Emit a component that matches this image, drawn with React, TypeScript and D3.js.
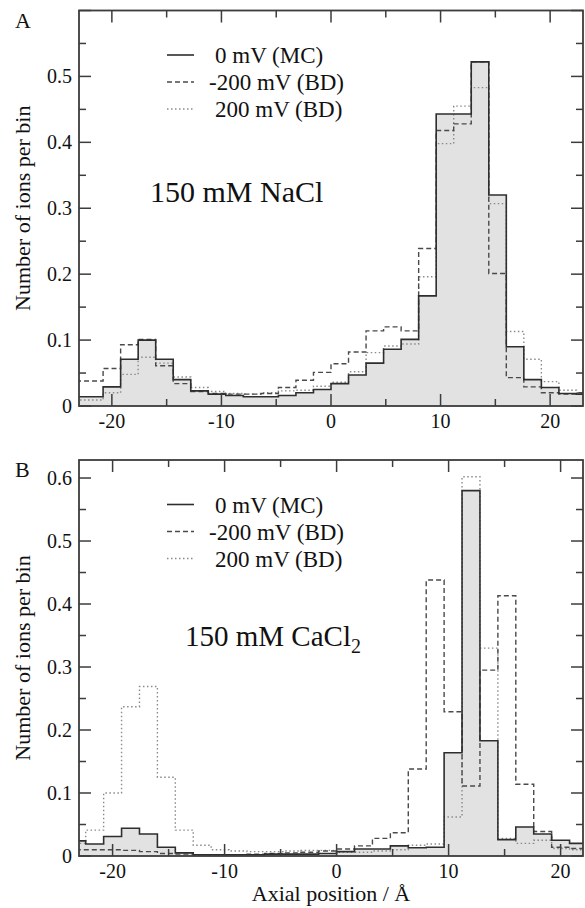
import React from "react";
import * as d3 from "d3";

// Bin edges along the channel axis (Å)
const BIN_EDGES = [
  -24, -22.4, -20.8, -19.2, -17.6, -16, -14.4, -12.8, -11.2, -9.6, -8, -6.4, -4.8, -3.2, -1.6,
  0, 1.6, 3.2, 4.8, 6.4, 8, 9.6, 11.2, 12.8, 14.4, 16, 17.6, 19.2, 20.8, 22.4, 24,
];

// Panel A: 150 mM NaCl
const NACL_0MV_MC = [
  0.014, 0.014, 0.029, 0.071, 0.1, 0.071, 0.04, 0.023, 0.018, 0.016, 0.014, 0.014, 0.016, 0.02, 0.025,
  0.034, 0.047, 0.065, 0.086, 0.101, 0.167, 0.443, 0.443, 0.522, 0.32, 0.09, 0.04, 0.028, 0.019, 0.018,
];
const NACL_NEG200_BD = [
  0.038, 0.038, 0.057, 0.093, 0.101, 0.061, 0.034, 0.022, 0.019, 0.018, 0.018, 0.019, 0.028, 0.039, 0.051,
  0.064, 0.082, 0.114, 0.12, 0.114, 0.239, 0.418, 0.428, 0.522, 0.201, 0.043, 0.029, 0.02, 0.018, 0.02,
];
const NACL_POS200_BD = [
  0.009, 0.009, 0.02, 0.048, 0.074, 0.065, 0.044, 0.028, 0.022, 0.019, 0.018, 0.02, 0.023, 0.024, 0.03,
  0.036, 0.052, 0.081, 0.091, 0.094, 0.196, 0.398, 0.455, 0.483, 0.307, 0.113, 0.071, 0.037, 0.024, 0.02,
];

// Panel B: 150 mM CaCl2
const CACL_0MV_MC = [
  0.024, 0.019, 0.031, 0.044, 0.035, 0.014, 0.005, 0.002, 0.002, 0.002, 0.002, 0.003, 0.003, 0.003, 0.004,
  0.007, 0.011, 0.011, 0.016, 0.013, 0.014, 0.164, 0.58, 0.183, 0.026, 0.046, 0.035, 0.025, 0.02, 0.02,
];
const CACL_NEG200_BD = [
  0.01, 0.01, 0.01, 0.009, 0.007, 0.004, 0.003, 0.002, 0.002, 0.002, 0.003, 0.004, 0.005, 0.006, 0.008,
  0.011, 0.016, 0.028, 0.037, 0.138, 0.438, 0.229, 0.111, 0.295, 0.413, 0.114, 0.039, 0.014, 0.012, 0.01,
];
const CACL_POS200_BD = [
  0.02, 0.041, 0.1, 0.237, 0.269, 0.125, 0.041, 0.017, 0.01, 0.008, 0.007, 0.007, 0.008, 0.009, 0.009,
  0.006, 0.006, 0.008, 0.01, 0.017, 0.019, 0.062, 0.602, 0.33, 0.028, 0.02, 0.025, 0.012, 0.01, 0.01,
];

const LEGEND_LABELS = ["0 mV (MC)", "-200 mV (BD)", "200 mV (BD)"];
const X_MAJOR = [-20, -10, 0, 10, 20];
const X_MAJOR_LABELS = ["-20", "-10", "0", "10", "20"];
const X_MINOR = [-15, -5, 5, 15];
const Y_MAJOR = [0, 0.1, 0.2, 0.3, 0.4, 0.5, 0.6];
const Y_MAJOR_LABELS = ["0", "0.1", "0.2", "0.3", "0.4", "0.5", "0.6"];
const Y_MINOR = [0.05, 0.15, 0.25, 0.35, 0.45, 0.55];

const FONT = "'Liberation Serif', 'Times New Roman', serif";
const FRAME = "#3c3c3c";
const FILL = "#e2e2e2";

const PLOT_LEFT = 79;
const PLOT_RIGHT = 583;

const PANELS = [
  {
    id: "A",
    top: 10.5,
    bottom: 406,
    xDomain: [-23, 23],
    yMax: 0.6,
    mc: NACL_0MV_MC,
    neg: NACL_NEG200_BD,
    pos: NACL_POS200_BD,
    salt: "150 mM NaCl",
    sub: "",
    saltX: 150,
    saltY: 202,
    saltSize: 30,
  },
  {
    id: "B",
    top: 460,
    bottom: 856,
    xDomain: [-23, 22],
    yMax: 0.6286,
    mc: CACL_0MV_MC,
    neg: CACL_NEG200_BD,
    pos: CACL_POS200_BD,
    salt: "150 mM CaCl",
    sub: "2",
    saltX: 185,
    saltY: 646,
    saltSize: 29,
  },
];

type Cfg = (typeof PANELS)[number];

function stepPoints(values: number[]): [number, number][] {
  const pts: [number, number][] = values.map((v, i) => [BIN_EDGES[i], v]);
  pts.push([BIN_EDGES[values.length], values[values.length - 1]]);
  return pts;
}

function Panel({ cfg }: { cfg: Cfg }) {
  const x = d3.scaleLinear().domain(cfg.xDomain).range([PLOT_LEFT, PLOT_RIGHT]);
  const y = d3.scaleLinear().domain([0, cfg.yMax]).range([cfg.bottom, cfg.top]);
  const line = d3
    .line<[number, number]>()
    .x((d) => x(d[0]))
    .y((d) => y(d[1]))
    .curve(d3.curveStepAfter);
  const area = d3
    .area<[number, number]>()
    .x((d) => x(d[0]))
    .y0(y(0))
    .y1((d) => y(d[1]))
    .curve(d3.curveStepAfter);
  const clipId = `clip-${cfg.id}`;
  const w = PLOT_RIGHT - PLOT_LEFT;
  const h = cfg.bottom - cfg.top;
  const major = 12;
  const minor = 7;
  const yMajor = Y_MAJOR.filter((v) => v <= cfg.yMax + 1e-9);
  const yLabelled = Y_MAJOR.filter((v) => v < cfg.yMax - 1e-6);
  const yMinor = Y_MINOR.filter((v) => v <= cfg.yMax);
  const legendY = [cfg.top + 44.5, cfg.top + 71.5, cfg.top + 98.5];
  const legendTextX = [215, 209, 215];
  const styles = [
    { stroke: "#2e2e2e", dash: undefined, width: 1.6 },
    { stroke: "#4a4a4a", dash: "5,3", width: 1.4 },
    { stroke: "#8a8a8a", dash: "1.5,2.5", width: 1.4 },
  ];
  const series = [cfg.mc, cfg.neg, cfg.pos];

  return (
    <g>
      <defs>
        <clipPath id={clipId}>
          <rect x={PLOT_LEFT} y={cfg.top} width={w} height={h} />
        </clipPath>
      </defs>
      <g clipPath={`url(#${clipId})`}>
        <path d={area(stepPoints(cfg.mc)) || ""} fill={FILL} stroke="none" />
        {[2, 1, 0].map((i) => (
          <path
            key={i}
            d={line(stepPoints(series[i])) || ""}
            fill="none"
            stroke={styles[i].stroke}
            strokeWidth={styles[i].width}
            strokeDasharray={styles[i].dash}
          />
        ))}
      </g>
      {/* frame */}
      <rect x={PLOT_LEFT} y={cfg.top} width={w} height={h} fill="none" stroke={FRAME} strokeWidth={1.8} />
      {/* x ticks */}
      {X_MAJOR.filter((v) => v > cfg.xDomain[0] && v < cfg.xDomain[1]).map((v) => (
        <g key={`xM${v}`}>
          <line x1={x(v)} x2={x(v)} y1={cfg.bottom} y2={cfg.bottom - major} stroke={FRAME} strokeWidth={1.5} />
          <line x1={x(v)} x2={x(v)} y1={cfg.top} y2={cfg.top + major} stroke={FRAME} strokeWidth={1.5} />
          <text x={x(v)} y={cfg.bottom + 22} textAnchor="middle" fontSize={20} fontFamily={FONT} fill="#111">
            {X_MAJOR_LABELS[X_MAJOR.indexOf(v)]}
          </text>
        </g>
      ))}
      {X_MINOR.filter((v) => v > cfg.xDomain[0] && v < cfg.xDomain[1]).map((v) => (
        <g key={`xm${v}`}>
          <line x1={x(v)} x2={x(v)} y1={cfg.bottom} y2={cfg.bottom - minor} stroke={FRAME} strokeWidth={1.5} />
          <line x1={x(v)} x2={x(v)} y1={cfg.top} y2={cfg.top + minor} stroke={FRAME} strokeWidth={1.5} />
        </g>
      ))}
      {/* y ticks */}
      {yMajor.map((v) => (
        <g key={`yM${v}`}>
          <line x1={PLOT_LEFT} x2={PLOT_LEFT + major} y1={y(v)} y2={y(v)} stroke={FRAME} strokeWidth={1.5} />
          <line x1={PLOT_RIGHT} x2={PLOT_RIGHT - major} y1={y(v)} y2={y(v)} stroke={FRAME} strokeWidth={1.5} />
        </g>
      ))}
      {yLabelled.map((v) => (
        <text key={`yl${v}`} x={72} y={y(v) + 7} textAnchor="end" fontSize={20} fontFamily={FONT} fill="#111">
          {Y_MAJOR_LABELS[Y_MAJOR.indexOf(v)]}
        </text>
      ))}
      {yMinor.map((v) => (
        <g key={`ym${v}`}>
          <line x1={PLOT_LEFT} x2={PLOT_LEFT + minor} y1={y(v)} y2={y(v)} stroke={FRAME} strokeWidth={1.5} />
          <line x1={PLOT_RIGHT} x2={PLOT_RIGHT - minor} y1={y(v)} y2={y(v)} stroke={FRAME} strokeWidth={1.5} />
        </g>
      ))}
      {/* y title */}
      <text
        transform={`translate(30,${(cfg.top + cfg.bottom) / 2}) rotate(-90)`}
        textAnchor="middle"
        fontSize={22}
        fontFamily={FONT}
        fill="#111"
      >
        Number of ions per bin
      </text>
      {/* panel letter */}
      <text x={15} y={cfg.top + 17} fontSize={22} fontFamily={FONT} fill="#111">
        {cfg.id}
      </text>
      {/* legend */}
      {LEGEND_LABELS.map((lab, i) => (
        <g key={lab}>
          <line
            x1={167}
            x2={194}
            y1={legendY[i]}
            y2={legendY[i]}
            stroke={styles[i].stroke}
            strokeWidth={styles[i].width}
            strokeDasharray={styles[i].dash}
          />
          <text x={legendTextX[i]} y={legendY[i] + 8} fontSize={23} fontFamily={FONT} fill="#111">
            {lab}
          </text>
        </g>
      ))}
      {/* salt label */}
      <text x={cfg.saltX} y={cfg.saltY} fontSize={cfg.saltSize} fontFamily={FONT} fill="#111">
        {cfg.salt}
        {cfg.sub ? (
          <tspan fontSize={20} dy={7}>
            {cfg.sub}
          </tspan>
        ) : null}
      </text>
    </g>
  );
}

export default function App() {
  return (
    <svg
      width={585}
      height={908}
      viewBox="0 0 585 908"
      style={{ position: "absolute", left: 0, top: 0, background: "#fff" }}
    >
      <rect x={0} y={0} width={585} height={908} fill="#fff" />
      {PANELS.map((p) => (
        <Panel key={p.id} cfg={p} />
      ))}
      <text x={331} y={901} textAnchor="middle" fontSize={22} fontFamily={FONT} fill="#111">
        Axial position / Å
      </text>
    </svg>
  );
}
